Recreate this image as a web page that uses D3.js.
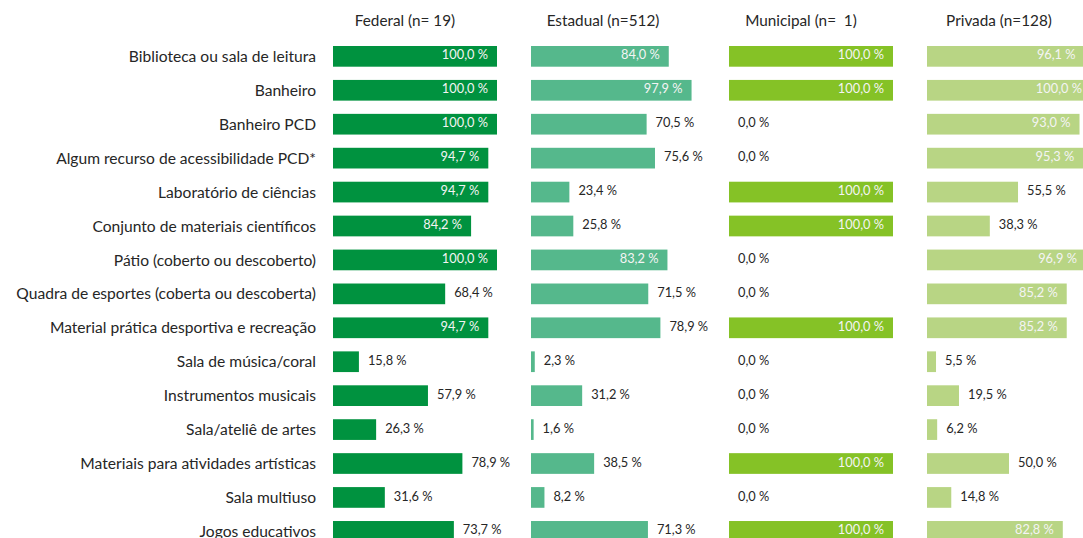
<!DOCTYPE html>
<html>
<head>
<meta charset="utf-8">
<script src="https://cdn.jsdelivr.net/npm/d3@7"></script>
<style>
  html, body { margin: 0; padding: 0; background: #ffffff; overflow: hidden; }
  svg { display: block; font-family: "Lato", "Open Sans", sans-serif; }
  svg text { white-space: pre; }
</style>
</head>
<body>
<svg id="chart" width="1083" height="538"></svg>
<script>
// Infrastructure items, top to bottom
const categories = [
  "Biblioteca ou sala de leitura",
  "Banheiro",
  "Banheiro PCD",
  "Algum recurso de acessibilidade PCD*",
  "Laboratório de ciências",
  "Conjunto de materiais científicos",
  "Pátio (coberto ou descoberto)",
  "Quadra de esportes (coberta ou descoberta)",
  "Material prática desportiva e recreação",
  "Sala de música/coral",
  "Instrumentos musicais",
  "Sala/ateliê de artes",
  "Materiais para atividades artísticas",
  "Sala multiuso",
  "Jogos educativos"
];

// Panel titles (school network and sample size)
const panelTitles = ["Federal (n= 19)", "Estadual (n=512)", "Municipal (n=  1)", "Privada (n=128)"];

// Share of schools (%) per network
const federal   = [100.0, 100.0, 100.0, 94.7, 94.7, 84.2, 100.0, 68.4, 94.7, 15.8, 57.9, 26.3, 78.9, 31.6, 73.7];
const estadual  = [84.0, 97.9, 70.5, 75.6, 23.4, 25.8, 83.2, 71.5, 78.9, 2.3, 31.2, 1.6, 38.5, 8.2, 71.3];
const municipal = [100.0, 100.0, 0.0, 0.0, 100.0, 100.0, 0.0, 0.0, 100.0, 0.0, 0.0, 0.0, 100.0, 0.0, 100.0];
const privada   = [96.1, 100.0, 93.0, 95.3, 55.5, 38.3, 96.9, 85.2, 85.2, 5.5, 19.5, 6.2, 50.0, 14.8, 82.8];

const seriesValues = [federal, estadual, municipal, privada];
const barColors = ["#00923f", "#55b88c", "#85c226", "#b8d584"];

const svg = d3.select("#chart");
const textColor = "#262626";

// Row layout
const rowStep = 33.93;
const barH = 20.7;
const pad = 1 - barH / rowStep;
const yTop = 46 - (rowStep - barH) / 2;
const y = d3.scaleBand()
  .domain(categories)
  .range([yTop, yTop + rowStep * categories.length])
  .paddingInner(pad)
  .paddingOuter(pad / 2);

// Panel layout: four side-by-side bar panels of equal width
const panelStart = 333;
const panelGap = 198;
const panelWidth = 164;

const fmt = v => d3.format(".1f")(v).replace(".", ",") + " %";

// Category labels
svg.append("g")
  .selectAll("text")
  .data(categories)
  .join("text")
  .attr("x", 316)
  .attr("y", d => y(d) + y.bandwidth() / 2)
  .attr("dy", "0.36em")
  .attr("text-anchor", "end")
  .attr("fill", textColor)
  .attr("font-size", 15.6)
  .text(d => d);

seriesValues.forEach((vals, p) => {
  const x0 = panelStart + p * panelGap;
  const x = d3.scaleLinear().domain([0, 100]).range([x0, x0 + panelWidth]);
  const g = svg.append("g");

  // Title
  g.append("text")
    .attr("x", x0 + 72)
    .attr("y", 26)
    .attr("text-anchor", "middle")
    .attr("fill", textColor)
    .attr("font-size", 15.3)
    .text(panelTitles[p]);

  const rows = categories.map((c, i) => ({ c, v: vals[i] }));

  g.selectAll("rect")
    .data(rows)
    .join("rect")
    .attr("x", x(0))
    .attr("y", d => y(d.c))
    .attr("width", d => x(d.v) - x(0))
    .attr("height", y.bandwidth())
    .attr("fill", barColors[p]);

  // Value labels: inside the bar for long bars, outside for short ones
  g.selectAll("text.val")
    .data(rows)
    .join("text")
    .attr("class", "val")
    .attr("x", d => d.v >= 80 ? x(d.v) - 9 : x(d.v) + 9)
    .attr("y", d => y(d.c) + y.bandwidth() / 2 - 1.5)
    .attr("dy", "0.36em")
    .attr("text-anchor", d => d.v >= 80 ? "end" : "start")
    .attr("fill", d => d.v >= 80 ? "#f4f4f4" : textColor)
    .attr("font-size", 12.8)
    .text(d => fmt(d.v));
});
</script>
</body>
</html>
